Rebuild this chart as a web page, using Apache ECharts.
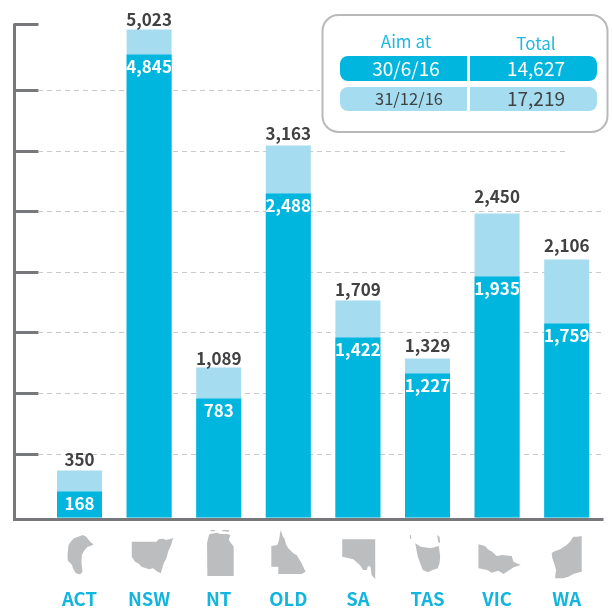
<!DOCTYPE html>
<html><head><meta charset="utf-8">
<style>html,body{margin:0;padding:0;background:#fff}#c{width:612px;height:608px}</style>
<script src="https://cdn.jsdelivr.net/npm/echarts@6/dist/echarts.min.js"></script>
</head><body><div id="c"></div>
<script>
const categories = ['ACT','NSW','NT','OLD','SA','TAS','VIC','WA'];
// Figures printed on the bars.
const printedAim = ['168','4,845','783','2,488','1,422','1,227','1,935','1,759'];
const printedTotal = ['350','5,023','1,089','3,163','1,709','1,329','2,450','2,106'];
// The source is an infographic whose bars are not proportional to the printed
// figures, so heights are read off the picture (scaled so the NSW bar = 5,023).
const barAim = [268,4766,1225,3335,1853,1482,2481,1997];
const barTotal = [484,5023,1544,3829,2234,1637,3129,2656];
// Unlabelled axis ticks as drawn.
const tickValues = [648,1276,1904,2522,3150,3767,4395,5074];
const dashedValues = [648,1276,1904,2522,3150,3767,4395];
const tableHead = ['Aim at','Total'];
const tableRows = [['30/6/16','14,627'],['31/12/16','17,219']];
// State silhouettes, outline points relative to an icon origin (3x units).
const silhouettes = {
 ACT:[[[10,-155],[20,-150],[32,-135],[42,-127],[34,-122],[24,-120],[14,-108],[7,-95],[6,-70],[9,-45],[3,-38],[-3,-37],[-12,-42],[-20,-55],[-22,-65],[-35,-78],[-36,-95],[-33,-125],[-24,-138],[-16,-145]]],
 NSW:[[[-52,-135],[22,-135],[28,-142],[42,-144],[50,-140],[72,-145],[66,-125],[57,-105],[52,-85],[44,-70],[35,-40],[25,-45],[12,-55],[0,-52],[-23,-60],[-30,-68],[-42,-75],[-52,-90]]],
 NT:[[[-35,-130],[-30,-152],[-27,-158],[-5,-162],[5,-158],[25,-158],[35,-155],[30,-140],[35,-133],[45,-120],[45,-32],[-34,-32]],[[-25,-170],[-10,-170],[-14,-166],[-23,-166]],[[10,-170],[32,-170],[30,-165],[12,-166]]],
 OLD:[[[-23,-170],[-16,-150],[-12,-145],[-6,-125],[0,-115],[15,-100],[25,-95],[40,-70],[52,-45],[40,-38],[-30,-38],[-30,-60],[-51,-60],[-51,-122],[-33,-125],[-28,-140]]],
 SA:[[[-47,-142],[52,-142],[52,-23],[41,-35],[38,-60],[30,-62],[27,-50],[16,-50],[6,-65],[-14,-82],[-47,-90]]],
 TAS:[[[-37,-130],[-20,-120],[-9,-118],[10,-115],[34,-122],[38,-90],[36,-70],[31,-55],[15,-50],[1,-43],[-14,-50],[-22,-70],[-29,-90]],[[-53,-155],[-50,-155],[-49,-143],[-52,-143]],[[29,-155],[36,-150],[38,-130],[32,-135]]],
 VIC:[[[-56,-127],[-36,-122],[-28,-112],[-15,-105],[-1,-92],[15,-95],[44,-92],[49,-75],[71,-65],[50,-58],[19,-38],[4,-48],[-16,-42],[-30,-50],[-56,-55]]],
 WA:[[[45,-152],[45,-45],[33,-42],[20,-38],[5,-30],[-10,-25],[-35,-25],[-32,-50],[-36,-65],[-43,-85],[-45,-100],[-40,-105],[-20,-112],[0,-125],[10,-135],[20,-150],[32,-150]]]
};
const totalLabelNudge = [-1,0,1,-2,-1,-3,-7,-4];

const BLUE='#00b6de', LIGHT='#a5dcf0', GREY='#77787b', DARK='#414042';
const FONT='"Noto Sans CJK SC","Noto Sans",sans-serif';
const chart = echarts.init(document.getElementById('c'));

function tableGraphics(){
  const out=[{type:'rect',shape:{x:322.5,y:15,width:285,height:117,r:16},style:{fill:'#fff',stroke:'#b8b9bb',lineWidth:2},z:50}];
  const cols=[[340,127,406,[8,0,0,8]],[470,127,536,[0,8,8,0]]];
  const rows=[[56,25,BLUE,'#fff'],[87,24,LIGHT,DARK]];
  cols.forEach((c,ci)=>{
    out.push({type:'text',z:52,style:{x:c[2],y:ci?44:42,text:tableHead[ci],fill:'#1fb8e0',font:'400 17px '+FONT,textAlign:'center',textVerticalAlign:'middle'}});
    rows.forEach((r,ri)=>{
      out.push({type:'rect',z:51,shape:{x:c[0],y:r[0],width:c[1],height:r[1],r:c[3]},style:{fill:r[2]}});
      const small=(ri===1&&ci===0);
      out.push({type:'text',z:52,style:{x:small?c[2]+3:c[2],y:r[0]+r[1]/2,text:tableRows[ri][ci],fill:r[3],font:'400 '+(small?16.5:19)+'px '+FONT,textAlign:'center',textVerticalAlign:'middle'}});
    });
  });
  return out;
}

function dashItem(v,endX){
  return [{x:38,yAxis:v},{x:endX,yAxis:v}];
}

chart.setOption({
  animation:false,
  backgroundColor:'#fff',
  grid:{left:44.7,width:556.8,top:24.5,bottom:88.5,containLabel:false,outerBoundsMode:'none'},
  xAxis:{type:'category',data:categories,
    axisLine:{show:false},axisTick:{show:false},
    axisLabel:{margin:70,interval:0,color:'#12b5de',fontFamily:FONT,fontSize:18.5,fontWeight:'bold'}},
  yAxis:{type:'value',min:-20.6,max:5074,offset:30.2,splitLine:{show:false},
    axisLine:{show:true,lineStyle:{color:GREY,width:3}},
    axisLabel:{show:false},
    axisTick:{show:true,inside:true,length:24,customValues:tickValues,lineStyle:{color:GREY,width:3}}},
  graphic:tableGraphics(),
  series:[
    {type:'bar',name:'Total at 31/12/16',data:barTotal,barWidth:45,barGap:'-100%',z:3,
     itemStyle:{color:LIGHT},
     label:{show:true,position:'top',distance:1,color:DARK,fontFamily:FONT,fontSize:17,fontWeight:'bold',
       formatter:p=>printedTotal[p.dataIndex]},
     labelLayout:p=>({dy:totalLabelNudge[p.dataIndex]}),
     markLine:{silent:true,symbol:'none',z:1,label:{show:false},
       lineStyle:{color:'#c9c9c9',type:[5,4],width:1},
       data:dashedValues.map((v,i)=>dashItem(v,i===6?320:(i===5?566:604)))
         .concat([[{x:13,yAxis:-20.6,lineStyle:{color:GREY,type:'solid',width:3}},{x:603.5,yAxis:-20.6}]])}},
    {type:'bar',name:'Aim at 30/6/16',data:barAim,barWidth:45,barGap:'-100%',z:4,
     itemStyle:{color:BLUE},
     label:{show:true,position:'insideTop',distance:4,color:'#fff',fontFamily:FONT,fontSize:17,fontWeight:'bold',
       formatter:p=>printedAim[p.dataIndex]}},
    {type:'custom',name:'State shapes',coordinateSystem:'cartesian2d',silent:true,z:2,clip:false,
     data:categories.map((c,i)=>[i,0]),
     renderItem:(params,api)=>{
       const x=api.coord([api.value(0),0])[0];
       const base=586.7;
       const polys=silhouettes[categories[params.dataIndex]];
       return {type:'group',children:polys.map(p=>({type:'polygon',
         shape:{points:p.map(q=>[x+q[0]/3, base+q[1]/3])},style:{fill:'#bcbdbf'}}))};
     }}
  ]
});
</script></body></html>
